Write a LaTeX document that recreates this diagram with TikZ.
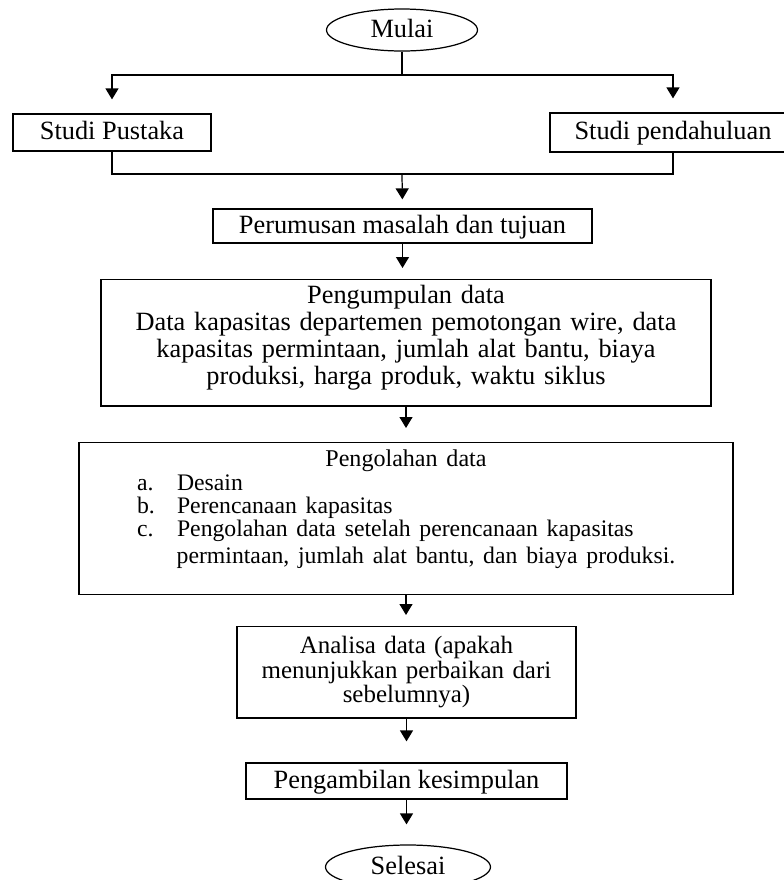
\documentclass[tikz,border=0pt]{standalone}
\usepackage{fontspec}
\setmainfont{Liberation Serif}
\usetikzlibrary{shapes.geometric, arrows.meta}
\newcommand{\boxfont}{\fontsize{15}{15.2}\selectfont}
\newcommand{\listfont}{\fontsize{13.5}{13.2}\selectfont}

\begin{document}
\begin{tikzpicture}[x=0.02cm, y=-0.02cm, line width=0.7pt,
  >={Triangle[length=0.22cm, width=0.26cm]},
  box/.style={draw, rectangle, inner xsep=0.1cm, font=\boxfont},
  oneline/.style={text height=0.36cm, text depth=0.07cm},
  terminal/.style={draw, ellipse, inner sep=0pt, font=\boxfont, oneline}]
\useasboundingbox (0,0) rectangle (784,880);

\node[terminal, minimum width=3.02cm, minimum height=0.84cm] (mulai) at (402,30) {Mulai};
\node[box, oneline, minimum width=3.96cm, minimum height=0.74cm] (pustaka) at (112,132.5) {Studi Pustaka};
\node[box, oneline, minimum width=4.92cm, minimum height=0.78cm] (pendahuluan) at (673,132.5) {Studi pendahuluan};
\node[box, oneline, minimum width=7.58cm, minimum height=0.68cm] (rumusan) at (402.5,226) {Perumusan masalah dan tujuan};
\node[box, anchor=north, text width=12cm, align=center, inner ysep=0.12cm, text depth=1.92cm] (kumpul) at (406,279)
  {Pengumpulan data\\Data kapasitas departemen pemotongan wire, data\\kapasitas permintaan, jumlah alat bantu, biaya\\produksi, harga produk, waktu siklus};
\node[box, anchor=north, text width=12.88cm, align=center, inner ysep=0.15cm, text depth=2.41cm] (olah) at (406,442)
  {{\fontsize{13.7}{13}\selectfont Pengolahan data\par}
   \listfont\leftskip=1.06cm \rightskip=0pt plus 1fil
   \makebox[0.8cm][l]{a.}Desain\\
   \makebox[0.8cm][l]{b.}Perencanaan kapasitas\\
   \makebox[0.8cm][l]{c.}Pengolahan data setelah perencanaan kapasitas\\
   \hspace*{0.8cm}permintaan, jumlah alat bantu, dan biaya produksi.};
\node[box, anchor=north, text width=6.58cm, align=center, inner ysep=0.2cm, text depth=1.08cm,
  font=\fontsize{14.2}{13.7}\selectfont] (analisa) at (406.5,626)
  {Analisa data (apakah\\menunjukkan perbaikan dari\\sebelumnya)};
\node[box, oneline, minimum width=6.42cm, minimum height=0.72cm] (simpulan) at (406.5,781) {Pengambilan kesimpulan};
\node[terminal, minimum width=3.3cm, minimum height=0.88cm] (selesai) at (408,867) {Selesai};

% percabangan dari mulai
\coordinate (split) at (402,75);
\coordinate (join) at (402,174);
\draw (mulai.south) -- (split);
\draw[->, shorten >=0.28cm] (split) -| (pustaka.north);
\draw[->, shorten >=0.28cm] (split) -| (pendahuluan.north);
\draw (pustaka.south) |- (join) -| (pendahuluan.south);

% alur utama
\draw[->, shorten >=0.18cm] (join) -- (rumusan.north);
\draw[->, shorten >=0.22cm] (rumusan.south) -- (rumusan.south |- kumpul.north);
\draw[->, shorten >=0.28cm] (kumpul.south) -- (kumpul.south |- olah.north);
\draw[->, shorten >=0.22cm] (olah.south) -- (olah.south |- analisa.north);
\draw[->, shorten >=0.42cm] (analisa.south) -- (analisa.south |- simpulan.north);
\draw[->, shorten >=0.4cm] (simpulan.south) -- (simpulan.south |- selesai.north);
\end{tikzpicture}
\end{document}
